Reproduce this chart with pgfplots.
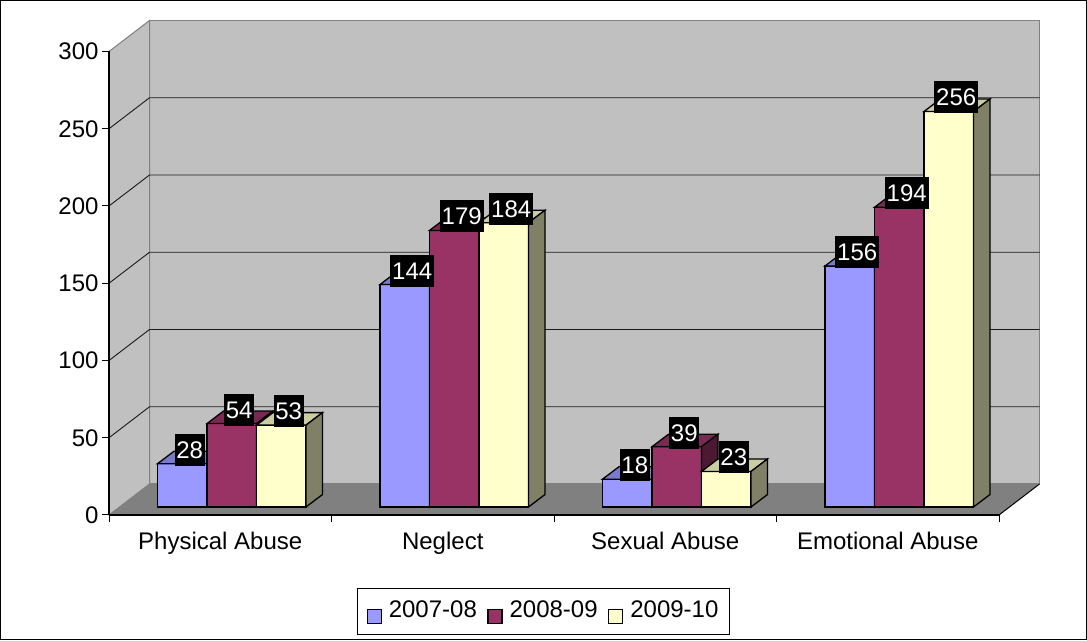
\documentclass[border=0pt]{standalone}
\usepackage{fontspec}
\setmainfont{Liberation Sans}
\usepackage{pgfplots}
\usepackage{pgfplotstable}
\pgfplotsset{compat=1.18}

\definecolor{barblue}{HTML}{9999FF}
\definecolor{barmaroon}{HTML}{993366}
\definecolor{baryellow}{HTML}{FFFFCC}
\definecolor{wallgray}{HTML}{C0C0C0}
\definecolor{floorgray}{HTML}{808080}

% referrals per year, one column per year, categories at 0.5, 1.5, ...
\pgfplotstableread{
x     y0708 y0809 y0910
0.5   28    54    53
1.5   144   179   184
2.5   18    39    23
3.5   156   194   256
}\abusedata

% 3-D bar drawn as a plot mark: front face, top face and side face.
% The mark sits at the bar top; its height comes from the value (\barv)
% times the y unit of the axis (1.545pt).
\newdimen\barh
\newdimen\barB
\newcommand\declarebar[3]{% mark name, left edge of the front face (pt), fill colour
  \pgfdeclareplotmark{#1}{%
    \barh=\barv pt \barh=1.545\barh
    \barB=8pt \advance\barB by -\barh
    \pgfsetlinewidth{1.3pt}\pgfsetstrokecolor{black}\pgfsetmiterjoin
    \pgfsetfillcolor{#3}%
    \pgfpathrectanglecorners{\pgfqpoint{#2pt}{\barB}}{\pgfqpoint{\dimexpr#2pt+49.5pt\relax}{8pt}}%
    \pgfusepath{fill,stroke}%
    \pgfsetfillcolor{#3!80!black}%
    \pgfpathmoveto{\pgfqpoint{#2pt}{8pt}}%
    \pgfpathlineto{\pgfqpoint{\dimexpr#2pt+16.5pt\relax}{20.5pt}}%
    \pgfpathlineto{\pgfqpoint{\dimexpr#2pt+66pt\relax}{20.5pt}}%
    \pgfpathlineto{\pgfqpoint{\dimexpr#2pt+49.5pt\relax}{8pt}}%
    \pgfpathclose\pgfusepath{fill,stroke}%
    \pgfsetfillcolor{#3!50!black}%
    \pgfpathmoveto{\pgfqpoint{\dimexpr#2pt+49.5pt\relax}{8pt}}%
    \pgfpathlineto{\pgfqpoint{\dimexpr#2pt+66pt\relax}{20.5pt}}%
    \pgfpathlineto{\pgfqpoint{\dimexpr#2pt+66pt\relax}{\dimexpr\barB+12.5pt\relax}}%
    \pgfpathlineto{\pgfqpoint{\dimexpr#2pt+49.5pt\relax}{\barB}}%
    \pgfpathclose\pgfusepath{fill,stroke}%
  }}
\declarebar{bar0708}{-62.75}{barblue}
\declarebar{bar0809}{-13.25}{barmaroon}
\declarebar{bar0910}{36.25}{baryellow}

\newcommand\chartfont{\fontsize{24}{28}\selectfont}

\tikzset{
  back/.style={shift={(40.5pt,31pt)}},
  gridline/.style={black!90, line width=0.9pt},
  valuelabel/.style={anchor=center, fill=black, text=white, font=\chartfont,
    inner xsep=1.8pt, inner ysep=7.5pt, text height=17pt, text depth=0pt},
  legendsquare/.style={black, line width=1.2pt, fill=#1},
}
\pgfplotsset{
  bar3d/.style={scatter, only marks, mark=#1,
    scatter/@pre marker code/.code={}, scatter/@post marker code/.code={},
    visualization depends on={rawy \as \barv}},
  barvalues/.style={forget plot, draw=none, nodes near coords,
    /pgf/number format/.cd, fixed, precision=0, /pgfplots/.cd,
    every node near coord/.append style={valuelabel, xshift=#1, yshift=22pt}},
}

\begin{document}
\begin{tikzpicture}[x=1pt,y=1pt]
\begin{axis}[
  set layers,
  at={(109pt,125pt)}, anchor=south west,
  x=222.5pt, y=1.545pt,
  xmin=0, xmax=4, ymin=0, ymax=300,
  clip=false,
  axis x line*=bottom, axis y line*=left,
  axis line style={black, line width=1.2pt},
  tick align=outside, major tick length=7pt,
  tick style={black, line width=1pt},
  xtick={0,1,2,3,4}, xticklabels={},
  extra x ticks={0.5,1.5,2.5,3.5},
  extra x tick labels={Physical Abuse,Neglect,Sexual Abuse,Emotional Abuse},
  extra x tick style={major tick length=0pt},
  xticklabel style={yshift=-14pt},
  ytick={0,50,...,300},
  /pgf/number format/assume math mode=true,
  tick label style={font=\chartfont},
  legend columns=3,
  legend cell align=left,
  legend style={at={(rel axis cs:0.4882,-0.2082)}, anchor=center,
    draw=black, line width=1pt, fill=white, font=\chartfont,
    inner xsep=9pt, inner ysep=10.5pt,
    /tikz/every odd column/.append style={column sep=5pt},
    /tikz/every even column/.append style={column sep=8.5pt}},
]
\begin{pgfonlayer}{axis background}
  \filldraw[fill=wallgray, draw=floorgray, line width=1pt]
    ([back]axis cs:0,0) rectangle ([back]axis cs:4,300);
  \filldraw[fill=wallgray, draw=floorgray, line width=1pt]
    (axis cs:0,0) -- (axis cs:0,300) -- ([back]axis cs:0,300) -- ([back]axis cs:0,0) -- cycle;
  \fill[floorgray]
    (axis cs:0,0) -- (axis cs:4,0) -- ([back]axis cs:4,0) -- ([back]axis cs:0,0) -- cycle;
  \draw[black, line width=1pt] (axis cs:4,0) -- ([back]axis cs:4,0);
  \draw[gridline] (axis cs:0,50) -- ([back]axis cs:0,50) -- ([back]axis cs:4,50);
  \draw[gridline] (axis cs:0,100) -- ([back]axis cs:0,100) -- ([back]axis cs:4,100);
  \draw[gridline] (axis cs:0,150) -- ([back]axis cs:0,150) -- ([back]axis cs:4,150);
  \draw[gridline] (axis cs:0,200) -- ([back]axis cs:0,200) -- ([back]axis cs:4,200);
  \draw[gridline] (axis cs:0,250) -- ([back]axis cs:0,250) -- ([back]axis cs:4,250);
\end{pgfonlayer}

\addplot[bar3d=bar0708,
  legend image code/.code={\draw[legendsquare=barblue] (0pt,-13pt) rectangle (14pt,1pt);}]
  table[x=x, y=y0708] {\abusedata};
\addlegendentry{2007-08}
\addplot[bar3d=bar0809,
  legend image code/.code={\draw[legendsquare=barmaroon] (0pt,-13pt) rectangle (14pt,1pt);}]
  table[x=x, y=y0809] {\abusedata};
\addlegendentry{2008-09}
\addplot[bar3d=bar0910,
  legend image code/.code={\draw[legendsquare=baryellow] (0pt,-13pt) rectangle (14pt,1pt);}]
  table[x=x, y=y0910] {\abusedata};
\addlegendentry{2009-10}

% value labels on top of the bars
\addplot[barvalues=-30.5pt] table[x=x, y=y0708] {\abusedata};
\addplot[barvalues=19pt] table[x=x, y=y0809] {\abusedata};
\addplot[barvalues=68.5pt] table[x=x, y=y0910] {\abusedata};
\end{axis}
% chart border, which also sets the picture size
\draw[black, line width=1pt] (0.5,0.5) rectangle (1086.5,639.5);
\end{tikzpicture}
\end{document}
